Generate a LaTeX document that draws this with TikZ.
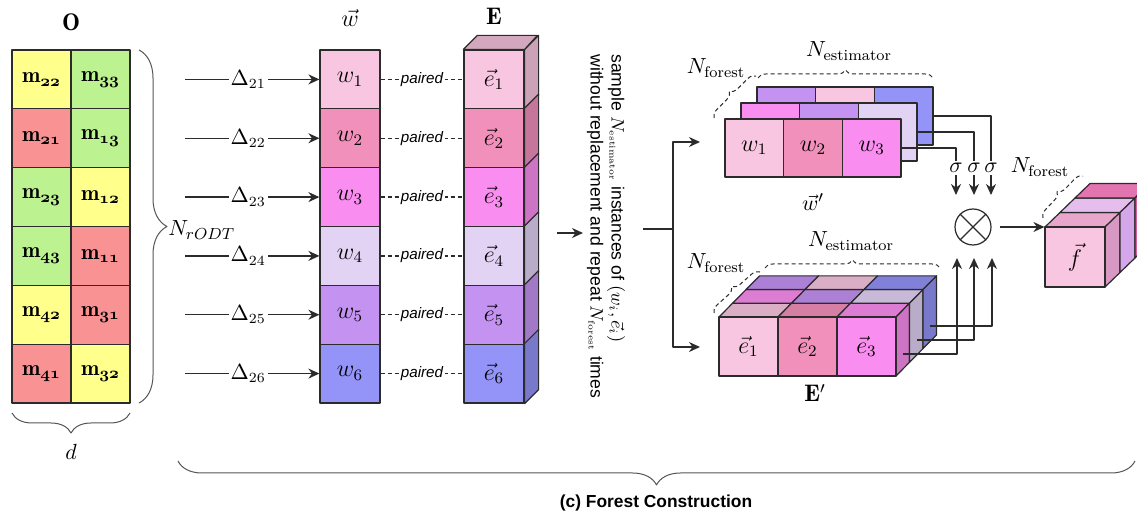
\documentclass[tikz,border=0pt]{standalone}
\usepackage{amsmath}
\usepackage{fontspec}
\newfontfamily\arialf{Liberation Sans}
\usetikzlibrary{arrows.meta,decorations.pathreplacing,calc}
\definecolor{cA}{HTML}{F8C6E0}
\definecolor{cB}{HTML}{F290BC}
\definecolor{cC}{HTML}{FA8EF0}
\definecolor{cD}{HTML}{E2D2F4}
\definecolor{cE}{HTML}{C493F2}
\definecolor{cF}{HTML}{9393F8}
\definecolor{gY}{HTML}{FFFF8C}
\definecolor{gR}{HTML}{F99292}
\definecolor{gG}{HTML}{BDF290}
\definecolor{ln}{HTML}{2B2B2B}
\definecolor{brc}{HTML}{555555}
\newcommand\mcell[1]{$\mathbf{m}_{\boldsymbol{\mathnormal{#1}}}$}
\begin{document}
\begin{tikzpicture}[x=0.5pt,y=-0.5pt,line join=round,
  font=\fontsize{11}{13}\selectfont,
  bx/.style={draw=ln,line width=0.6pt,inner sep=0pt},
  ocell/.style={bx,minimum width=29.5pt,minimum height=29.42pt,font=\fontsize{11}{13}\selectfont},
  ccell/.style={bx,minimum width=30pt,minimum height=29.42pt,font=\fontsize{11.5}{13}\selectfont},
  face/.style={draw=ln,line width=0.6pt},
  arr/.style={-{Stealth[length=5.5pt,width=5pt]},line width=0.7pt,draw=ln},
  cline/.style={line width=0.6pt,draw=ln},
  bigbrace/.style={decorate,line width=0.5pt,draw=brc},
  dbr/.style={decorate,decoration={brace,amplitude=4pt},dash pattern=on 2pt off 1.5pt,line width=0.5pt,draw=ln},
  lab/.style={inner sep=1pt}]
\clip (0,0) rectangle (1137,513);
\fill[white] (0,0) rectangle (1137,513);

% ---------- O grid ----------
\foreach \i/\a/\ca/\b/\cb [evaluate=\i as \yc using 20.59+58.83*\i] in
  {1/22/gY/33/gG, 2/21/gR/13/gG, 3/23/gG/12/gY, 4/43/gG/11/gR, 5/42/gY/31/gR, 6/41/gR/32/gY}{
  \node[ocell,fill=\ca] (oa\i) at (41.5,\yc) {\mcell{\a}};
  \node[ocell,fill=\cb] (ob\i) at (100.5,\yc) {\mcell{\b}};
}
\node[lab,font=\fontsize{12}{14}\selectfont] (lO) at (71,22) {$\mathbf{O}$};
\draw[bigbrace,decoration={brace,amplitude=14pt}] (139,50) -- (139,403);
\draw[bigbrace,decoration={brace,mirror,amplitude=10pt}] (12,413) -- (130,413);
\node[lab] (ld) at (71,452) {$d$};
\node[lab,anchor=west] (nr) at (166,230) {$N_{rODT}$};

% ---------- w and E columns ----------
\foreach \i/\col/\d [evaluate=\i as \yc using 20.59+58.83*\i] in
  {1/cA/21, 2/cB/22, 3/cC/23, 4/cD/24, 5/cE/25, 6/cF/26}{
  \node[ccell,fill=\col] (w\i) at (350,\yc) {$w_{\i}$};
  \node[ccell,fill=\col] (e\i) at (494,\yc) {$\vec{e}_{\i}$};
  \filldraw[face,fill=\col!82!black] (e\i.north east) -- ++(14,-14) -- ($(e\i.south east)+(14,-14)$) -- (e\i.south east) -- cycle;
  \coordinate (s\i) at (185,\yc);
  \draw[arr] (s\i) -- node[pos=0.47,fill=white,inner sep=1pt,font=\fontsize{10.5}{12}\selectfont] {$\Delta_{\d}$} (w\i.west);
  \draw[cline,dash pattern=on 2pt off 1.5pt] (w\i.east) -- node[fill=white,inner sep=1pt,font=\arialf\itshape\fontsize{7.6}{9}\selectfont] {paired} (e\i.west);
}
\filldraw[face,fill=cA!85!black] (e1.north west) -- ++(14,-14) -- ++(60,0) -- (e1.north east) -- cycle;
\node[lab,font=\fontsize{12}{14}\selectfont] (lw) at (350,18) {$\vec{w}$};
\node[lab,font=\fontsize{12}{14}\selectfont] (lE) at (494,16) {$\mathbf{E}$};

% ---------- sampling ----------
\coordinate (ain) at (557,233);
\coordinate (aout) at (583,233);
\draw[arr] (ain) -- (aout);
\node[rotate=-90,anchor=west,align=left,inner sep=0pt,font=\arialf\fontsize{8.8}{10.5}\selectfont] (samp) at (606,54)
  {sample $N_{\scriptscriptstyle\mathrm{estimator}}$ instances of $(w_i,\vec{e}_i)$\\ without replacement and repeat $N_{\scriptscriptstyle\mathrm{forest}}$ times};
\coordinate (b0) at (643,229);
\coordinate (b1) at (673,229);
\coordinate (bt) at (700,142);
\coordinate (bb) at (700,347);
\draw[cline] (b0) -- (b1);
\draw[arr] (b1) |- (bt);
\draw[arr] (b1) |- (bb);

% ---------- w' stack ----------
\foreach \k/\ca/\cb/\cc in {2/cE/cA/cF, 1/cC/cE/cD}{
  \node[bx,fill=\ca,minimum width=29.33pt,minimum height=29pt] (wp\k-1) at ({754.3+16*\k},{148-16*\k}) {};
  \node[bx,fill=\cb,minimum width=29.33pt,minimum height=29pt] (wp\k-2) at ({813+16*\k},{148-16*\k}) {};
  \node[bx,fill=\cc,minimum width=29.33pt,minimum height=29pt] (wp\k-3) at ({871.7+16*\k},{148-16*\k}) {};
}
\node[bx,fill=cA,minimum width=29.33pt,minimum height=29pt,font=\fontsize{11.5}{13}\selectfont] (wp0-1) at (754.3,148) {$w_1$};
\node[bx,fill=cB,minimum width=29.33pt,minimum height=29pt,font=\fontsize{11.5}{13}\selectfont] (wp0-2) at (813,148) {$w_2$};
\node[bx,fill=cC,minimum width=29.33pt,minimum height=29pt,font=\fontsize{11.5}{13}\selectfont] (wp0-3) at (871.7,148) {$w_3$};
\node[lab] (lwp) at (813,202) {$\vec{w}'$};
\draw[dbr] (758,78) -- (933,78);
\node[lab] (ne1) at (849,51) {$N_{\mathrm{estimator}}$};
\draw[dbr] (714,118) -- (756,76);
\node[lab] (nf1) at (716,68) {$N_{\mathrm{forest}}$};

% sigma
\node[lab] (sg1) at (956,168) {$\sigma$};
\node[lab] (sg2) at (974,168) {$\sigma$};
\node[lab] (sg3) at (991,168) {$\sigma$};
\draw[cline] (wp0-3.east) -| (sg1.north);
\draw[cline] (wp1-3.east) -| (sg2.north);
\draw[cline] (wp2-3.east) -| (sg3.north);
\coordinate (d1) at (956,195);
\coordinate (d2) at (974,195);
\coordinate (d3) at (991,195);
\draw[arr] (sg1.south) -- (d1);
\draw[arr] (sg2.south) -- (d2);
\draw[arr] (sg3.south) -- (d3);

% otimes
\node[circle,draw=ln,line width=0.6pt,minimum size=18pt,inner sep=0pt] (ot) at (973,227) {};
\draw[cline] (ot.45) -- (ot.225);
\draw[cline] (ot.135) -- (ot.315);

% ---------- E' block ----------
\foreach \k/\ca/\cb/\cc in {0/cA/cB/cC, 1/cC/cE/cD, 2/cE/cA/cF}{
  \foreach \j/\cl in {0/\ca,1/\cb,2/\cc}{
    \filldraw[face,fill=\cl!88!black] ({719+59*\j+13.5*\k},{317-13.7*\k}) -- ++(59,0) -- ++(13.5,-13.7) -- ++(-59,0) -- cycle;
  }
}
\foreach \k/\cl in {0/cC,1/cD,2/cF}{
  \filldraw[face,fill=\cl!82!black] ({896+13.5*\k},{317-13.7*\k}) -- ++(13.5,-13.7) -- ++(0,59) -- ++(-13.5,13.7) -- cycle;
}
\node[bx,fill=cA,minimum width=29.5pt,minimum height=29.5pt,font=\fontsize{11.5}{13}\selectfont] (ep1) at (748.5,346.5) {$\vec{e}_1$};
\node[bx,fill=cB,minimum width=29.5pt,minimum height=29.5pt,font=\fontsize{11.5}{13}\selectfont] (ep2) at (807.5,346.5) {$\vec{e}_2$};
\node[bx,fill=cC,minimum width=29.5pt,minimum height=29.5pt,font=\fontsize{11.5}{13}\selectfont] (ep3) at (866.5,346.5) {$\vec{e}_3$};
\node[lab,font=\fontsize{12}{14}\selectfont] (lEp) at (815,393) {$\mathbf{E}'$};
\draw[dbr] (765,268) -- (940,268);
\node[lab] (ne2) at (851,241) {$N_{\mathrm{estimator}}$};
\draw[dbr] (714,313) -- (760,272);
\node[lab] (nf2) at (716,263) {$N_{\mathrm{forest}}$};

\coordinate (q0) at (903,354);
\coordinate (q1) at (917,340);
\coordinate (q2) at (930,326);
\coordinate (u1) at (957,258);
\coordinate (u2) at (974,258);
\coordinate (u3) at (992,258);
\draw[arr] (q0) -| (u1);
\draw[arr] (q1) -| (u2);
\draw[arr] (q2) -| (u3);

% ---------- f cube ----------
\foreach \k/\ct/\cs in {0/E8A6CC/D898C4, 1/E6BEEE/D6A6EA, 2/E274B0/D8609E}{
  \definecolor{tt}{HTML}{\ct}\definecolor{ss}{HTML}{\cs}
  \filldraw[face,fill=tt] ({1045+15*\k},{227-14.5*\k}) -- ++(60,0) -- ++(15,-14.5) -- ++(-60,0) -- cycle;
  \filldraw[face,fill=ss] ({1105+15*\k},{227-14.5*\k}) -- ++(15,-14.5) -- ++(0,60) -- ++(-15,14.5) -- cycle;
}
\node[bx,fill=cA,minimum width=30pt,minimum height=30pt,font=\fontsize{11.5}{13}\selectfont] (fv) at (1075,257) {$\vec{f}$};
\draw[arr,shorten <=4pt] (ot.east) -- (ot.east -| fv.west);
\draw[dbr] (1043,218) -- (1083,176);
\node[lab] (nf3) at (1040,167) {$N_{\mathrm{forest}}$};

% ---------- bottom brace ----------
\draw[bigbrace,decoration={brace,mirror,amplitude=12pt}] (178,461) -- (1135,461);
\node[lab,font=\arialf\bfseries\fontsize{8.7}{10}\selectfont] (cap) at (656,503) {(c) Forest Construction};
\end{tikzpicture}
\end{document}
